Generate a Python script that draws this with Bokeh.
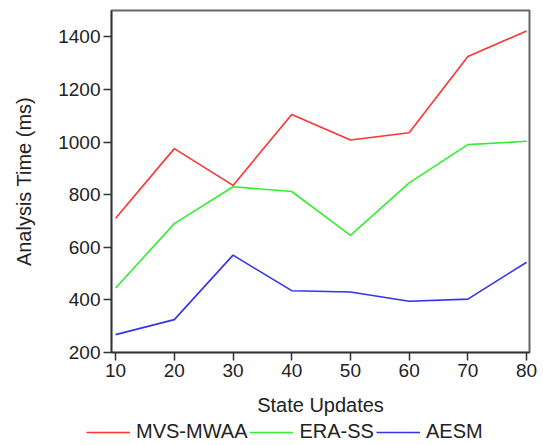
from bokeh.plotting import figure
from bokeh.layouts import column, row
from bokeh.models import Legend, LegendItem, Range1d, FixedTicker
from bokeh.embed import file_html
from bokeh.resources import INLINE

x_updates = [10, 20, 30, 40, 50, 60, 70, 80]
mvs_mwaa = [710, 975, 835, 1105, 1008, 1035, 1325, 1422]
era_ss = [445, 690, 830, 812, 645, 845, 990, 1003]
aesm = [268, 325, 570, 435, 430, 395, 403, 543]
y_ticks = [200, 400, 600, 800, 1000, 1200, 1400]
series_names = ["MVS-MWAA", "ERA-SS", "AESM"]
series_colors = ["#ff3333", "#33ee33", "#3333ee"]
series_values = [mvs_mwaa, era_ss, aesm]

FONT = "Liberation Sans"
TXT = "#222222"

p = figure(width=543, height=418, output_backend="svg", toolbar_location=None,
           x_range=Range1d(9.3, 80.5), y_range=Range1d(200, 1500),
           min_border_left=111, min_border_right=14, min_border_top=10, min_border_bottom=0)
p.outline_line_color = "#666666"
p.outline_line_width = 2
p.grid.visible = False

for ys, c in zip(series_values, series_colors):
    p.line(x_updates, ys, line_color=c, line_width=1.6)

for ax in (p.xaxis[0], p.yaxis[0]):
    ax.major_label_text_font = FONT
    ax.major_label_text_font_size = "19px"
    ax.major_label_text_color = TXT
    ax.axis_label_text_font = FONT
    ax.axis_label_text_font_size = "20px"
    ax.axis_label_text_font_style = "normal"
    ax.axis_label_text_color = TXT
    ax.minor_tick_line_color = None
    ax.major_tick_in = 0
    ax.major_tick_out = 8
    ax.axis_line_color = "#333333"
    ax.axis_line_width = 1.5
    ax.major_tick_line_color = "#333333"
    ax.major_tick_line_width = 1.5

p.xaxis.ticker = FixedTicker(ticks=x_updates)
p.yaxis.ticker = FixedTicker(ticks=y_ticks)
p.xaxis.axis_label = "State Updates"
p.yaxis.axis_label = "Analysis Time (ms)"
p.xaxis.major_label_standoff = 3
p.yaxis.major_label_standoff = 3
p.xaxis.axis_label_standoff = 14
p.yaxis.axis_label_standoff = 20

# legend strip below the chart (series lines drawn out of view; only the legend shows)
lg = figure(width=543, height=27, output_backend="svg", toolbar_location=None,
            x_range=Range1d(9.3, 80.5), y_range=Range1d(-2, -1),
            x_axis_location=None, y_axis_location=None,
            min_border_left=0, min_border_right=0, min_border_top=0, min_border_bottom=0)
lg.grid.visible = False
lg.outline_line_color = None
items = []
for name, ys, c in zip(series_names, series_values, series_colors):
    r = lg.line(x_updates, ys, line_color=c, line_width=1.6)
    items.append(LegendItem(label=name, renderers=[r]))
legend = Legend(items=items, orientation="horizontal", location=(86, 2),
                glyph_width=44, glyph_height=20, label_standoff=6, spacing=2,
                padding=0, margin=0, border_line_color=None, background_fill_alpha=0,
                label_text_font=FONT, label_text_font_size="20px", label_text_color=TXT)
lg.add_layout(legend, "center")

layout = column(p, row(lg, spacing=0), spacing=0)
open("out.html", "w").write(file_html(layout, INLINE))
